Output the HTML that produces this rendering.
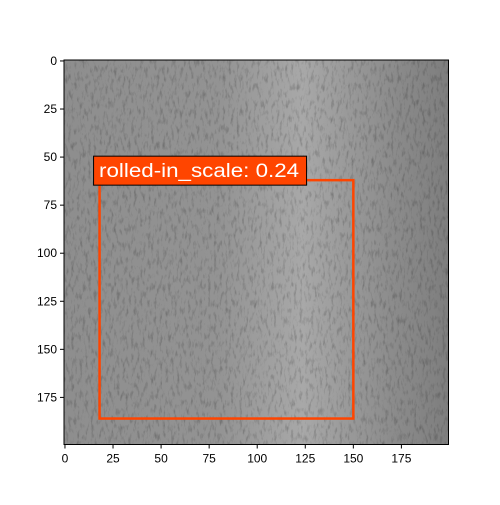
<!DOCTYPE html>
<html><head><meta charset="utf-8"><style>
body{margin:0;background:#fff;}
svg{font-family:"Liberation Sans",sans-serif;}
</style></head><body>
<svg width="500" height="500" viewBox="0 0 500 500">
<defs>
<filter id="noise" x="0" y="0" width="100%" height="100%">
<feTurbulence type="fractalNoise" baseFrequency="0.35 0.12" numOctaves="3" seed="5"/>
<feColorMatrix type="matrix" values="0 0 0 0 0  0 0 0 0 0  0 0 0 0 0  0 0 0 -1.6 0.8"/>
</filter>
<linearGradient id="bg" x1="0" y1="0" x2="1" y2="0">
<stop offset="0" stop-color="#8e8e8e"/>
<stop offset="0.4" stop-color="#939393"/>
<stop offset="0.62" stop-color="#a8a8a8"/>
<stop offset="0.85" stop-color="#8c8c8c"/>
<stop offset="1" stop-color="#7e7e7e"/>
</linearGradient>
</defs>
<g id="plot"></g>
</svg>
<script>
const xTicks=[0,25,50,75,100,125,150,175];
const yTicks=[0,25,50,75,100,125,150,175];
const boxX=[18,150];
const boxY=[62,186];
const label="rolled-in_scale: 0.24";
const L=64,T=60,S=384.5,N=200;
const sx=v=>L+(v+0.5)*S/N, sy=v=>T+(v+0.5)*S/N;
const g=document.getElementById('plot');const ns='http://www.w3.org/2000/svg';
function mk(t,a,p){const e=document.createElementNS(ns,t);for(const k in a)e.setAttribute(k,a[k]);(p||g).appendChild(e);return e;}
let im=mk('rect',{x:L,y:T,width:S,height:S,fill:'url(#bg)'});


let nz=mk('rect',{x:L,y:T,width:S,height:S,filter:'url(#noise)',opacity:0.35});


let fr=mk('rect',{x:L,y:T,width:S,height:S,fill:'none',stroke:'#000','stroke-width':1});


xTicks.forEach(v=>{const x=sx(v);
let l=mk('line',{x1:x,x2:x,y1:T+S,y2:T+S+4,stroke:'#000'});


let t=mk('text',{x:x,y:T+S+18,'font-size':12,'text-anchor':'middle'});t.textContent=v;

});
yTicks.forEach(v=>{const y=sy(v);
let l=mk('line',{x1:L-4,x2:L,y1:y,y2:y,stroke:'#000'});


let t=mk('text',{x:L-7,y:y+4,'font-size':12,'text-anchor':'end'});t.textContent=v;

});
let b=mk('rect',{x:sx(boxX[0]),y:sy(boxY[0]),width:sx(boxX[1])-sx(boxX[0]),height:sy(boxY[1])-sy(boxY[0]),fill:'none',stroke:'#ff4500','stroke-width':2.5});


let lb=mk('rect',{x:sx(boxX[0])-6,y:sy(boxY[0])-24,width:213,height:29,fill:'#ff4500',stroke:'#000','stroke-width':1});


let lt=mk('text',{x:sx(boxX[0])-0.5,y:sy(boxY[0])-3,'font-size':19,fill:'#fff',textLength:200,lengthAdjust:'spacingAndGlyphs'});lt.textContent=label;


</script>
</body></html>
